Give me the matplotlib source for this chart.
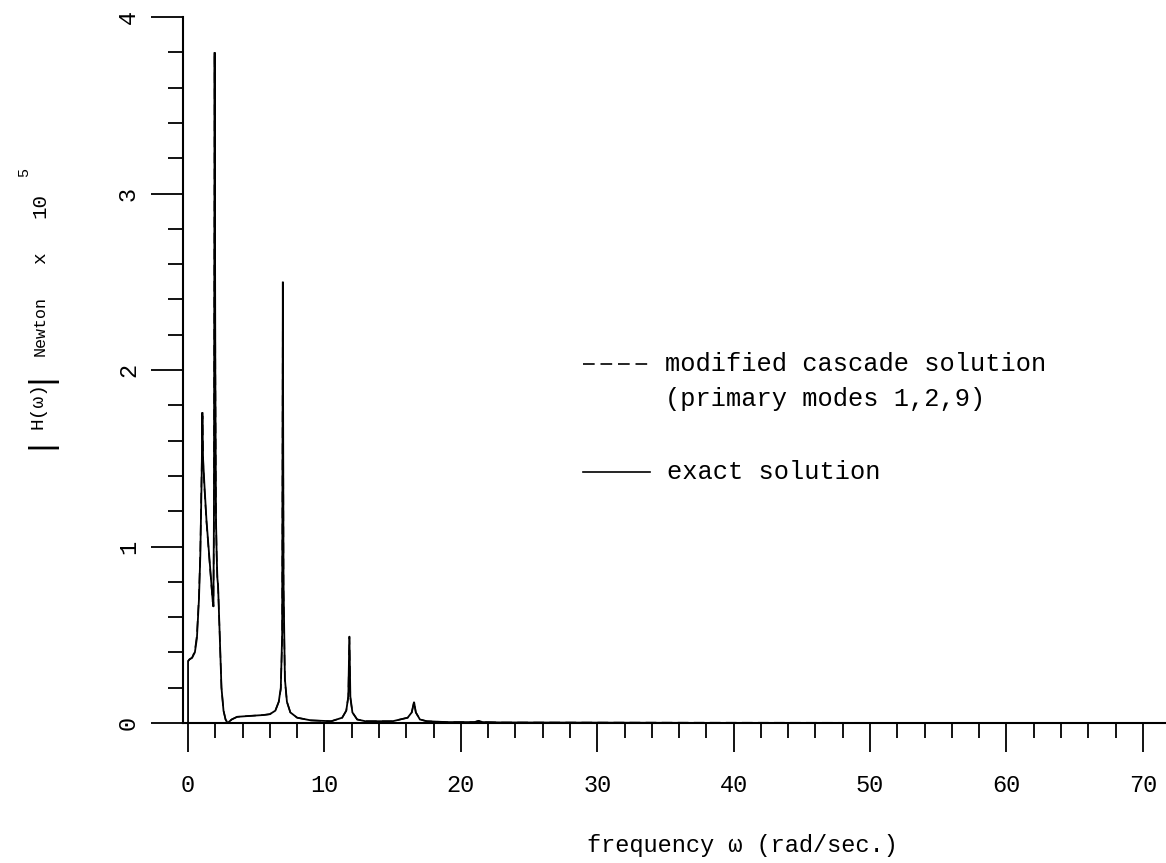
import matplotlib
matplotlib.use("Agg")
import matplotlib.pyplot as plt
from matplotlib.lines import Line2D
from matplotlib.ticker import MultipleLocator

# ---- data ----
exact_x = [0.0, 0.0, 0.1, 0.3, 0.5, 0.65, 0.8, 0.9, 1.0, 1.05, 1.1, 1.2, 1.35, 1.5, 1.65,
           1.8, 1.86, 1.9, 1.95, 2.0, 2.05, 2.1, 2.15, 2.2, 2.3, 2.45, 2.6, 2.75, 2.9,
           3.2, 3.6, 4.5, 5.5, 6.0, 6.4, 6.65, 6.8, 6.9, 6.95, 7.0, 7.1, 7.25, 7.5, 8.0,
           9.0, 10.5, 11.3, 11.6, 11.75, 11.83, 11.9, 12.05, 12.4, 13.0, 15.0, 16.1,
           16.4, 16.57, 16.7, 17.0, 17.5, 19.0, 21.0, 21.3, 21.6, 23.0, 30.0, 40.0,
           50.0, 60.0, 70.0, 71.7]
exact_y = [0.0, 0.35, 0.36, 0.37, 0.40, 0.48, 0.70, 0.95, 1.40, 1.76, 1.50, 1.35, 1.15,
           1.0, 0.85, 0.70, 0.66, 1.2, 3.80, 2.0, 1.15, 0.95, 0.82, 0.78, 0.55, 0.2,
           0.07, 0.02, 0.0, 0.02, 0.035, 0.04, 0.045, 0.05, 0.07, 0.12, 0.2, 0.5, 2.5,
           0.8, 0.25, 0.12, 0.06, 0.03, 0.015, 0.01, 0.03, 0.07, 0.15, 0.49, 0.15, 0.06,
           0.02, 0.01, 0.01, 0.03, 0.06, 0.12, 0.06, 0.02, 0.01, 0.005, 0.005, 0.012,
           0.005, 0.003, 0.002, 0.0, 0.0, 0.0, 0.0, 0.0]

cascade_x = [0.0, 0.1, 0.3, 0.5, 0.65, 0.8, 0.9, 1.0, 1.06, 1.12, 1.2, 1.35, 1.5, 1.65,
             1.8, 1.86, 1.9, 1.95, 2.0, 2.05, 2.1, 2.15, 2.2, 2.3, 2.45, 2.6, 2.75, 2.9,
             3.2, 3.6, 4.5, 5.5, 6.0, 6.4, 6.65, 6.8, 6.9, 6.95, 7.0, 7.1, 7.25, 7.5,
             8.0, 9.0, 10.5, 11.3, 11.6, 11.75, 11.83, 11.9, 12.05, 12.4, 13.0, 15.0,
             16.1, 16.4, 16.57, 16.7, 17.0, 17.5, 19.0, 21.0, 21.3, 21.6, 23.0, 71.7]
cascade_y = [0.35, 0.36, 0.37, 0.41, 0.50, 0.72, 0.98, 1.45, 1.74, 1.45, 1.33, 1.14,
             0.99, 0.84, 0.69, 0.66, 1.2, 3.80, 2.0, 1.15, 0.95, 0.82, 0.78, 0.55, 0.2,
             0.07, 0.02, 0.0, 0.02, 0.035, 0.04, 0.045, 0.05, 0.07, 0.12, 0.19, 0.48,
             2.5, 0.75, 0.24, 0.12, 0.06, 0.03, 0.015, 0.01, 0.03, 0.07, 0.15, 0.49,
             0.14, 0.06, 0.02, 0.01, 0.01, 0.03, 0.06, 0.12, 0.06, 0.02, 0.01, 0.005,
             0.005, 0.012, 0.005, 0.003, 0.0]

x_ticks = [0, 10, 20, 30, 40, 50, 60, 70]
y_ticks = [0, 1, 2, 3, 4]
legend_labels = ["modified cascade solution", "(primary modes 1,2,9)", "exact solution"]

W, H = 1166, 863
MONO = ["Liberation Mono", "DejaVu Sans Mono"]
plt.rcParams["font.family"] = MONO

fig = plt.figure(figsize=(W / 100, H / 100), dpi=100)
ax = fig.add_axes([183 / W, 1 - 723 / H, (1166 - 183) / W, (723 - 17) / H])

DASH = (0, (7, 3.5))
ax.plot(exact_x, exact_y, color="black", lw=1.3, solid_joinstyle="miter")
ax.plot(cascade_x, cascade_y, color="black", lw=1.1, linestyle=DASH)

ax.set_xlim(-0.37, 71.7)
ax.set_ylim(0, 4)

for s in ["top", "right"]:
    ax.spines[s].set_visible(False)
for s in ["left", "bottom"]:
    ax.spines[s].set_linewidth(1.5)

ax.xaxis.set_minor_locator(MultipleLocator(2))
ax.yaxis.set_minor_locator(MultipleLocator(0.2))
ax.set_xticks(x_ticks)
ax.set_yticks(y_ticks)
ax.set_xticklabels([str(v) for v in x_ticks])
ax.set_yticklabels([str(v) for v in y_ticks])

ax.tick_params(axis="x", which="major", direction="out", length=21, width=1.3,
               pad=16, labelsize=17)
ax.tick_params(axis="x", which="minor", direction="out", length=11, width=1.3)
ax.tick_params(axis="y", which="major", direction="out", length=23, width=1.3,
               pad=8, labelsize=17)
ax.tick_params(axis="y", which="minor", direction="out", length=11, width=1.3)
for lab in ax.get_yticklabels():
    lab.set_rotation(90)
    lab.set_va("center")
    lab.set_ha("right")

# legend (manual, to match the two-line first entry)
leg_fs = 18.3
ax.add_line(Line2D([583 / W, 650 / W], [1 - 364 / H, 1 - 364 / H], transform=fig.transFigure,
                   color="black", lw=1.2, linestyle=DASH))
ax.add_line(Line2D([583 / W, 650 / W], [1 - 472 / H, 1 - 472 / H], transform=fig.transFigure,
                   color="black", lw=1.2))
fig.text(665 / W, 1 - 364 / H, legend_labels[0], fontsize=leg_fs, va="center", ha="left")
fig.text(665 / W, 1 - 399 / H, legend_labels[1], fontsize=leg_fs, va="center", ha="left")
fig.text(667 / W, 1 - 472 / H, legend_labels[2], fontsize=leg_fs, va="center", ha="left")

# x label
fig.text(742 / W, 1 - 845 / H, "frequency ω (rad/sec.)", fontsize=17, ha="center", va="center")

# y label pieces (rotated)
def ylab(x, y, s, fs):
    fig.text(x / W, 1 - y / H, s, fontsize=fs, rotation=90, ha="center", va="center")

ylab(36, 439, "|", 24)
ylab(38, 405, "H(ω)", 14)
ylab(36, 373, "|", 24)
ylab(40, 326, "Newton", 12)
ylab(41, 258, "x", 14)
ylab(40, 205, "10", 15)
ylab(24, 172, "5", 11)

fig.savefig("out.png", dpi=100)
